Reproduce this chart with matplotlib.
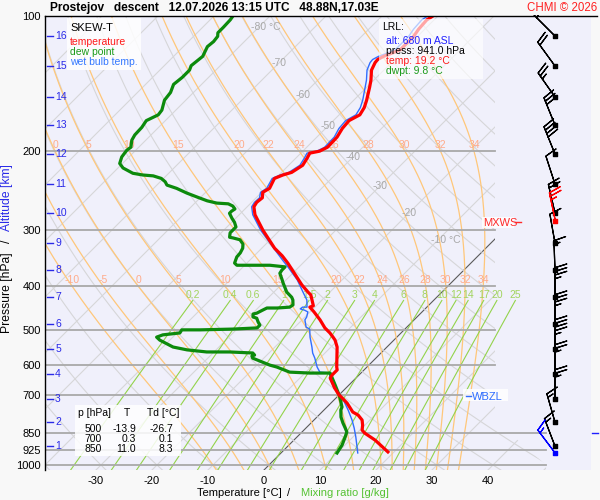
import numpy as np
import matplotlib.pyplot as plt
from matplotlib.patches import Polygon, Rectangle
from matplotlib.lines import Line2D
from matplotlib.ticker import NullLocator, NullFormatter

plt.rcParams['font.family'] = ['Liberation Sans', 'DejaVu Sans']
plt.rcParams['axes.unicode_minus'] = False

# temperature profile (hPa, degC)
t_p = [935, 880, 849, 836, 815, 794, 774, 762, 728, 709, 698, 674, 640, 630, 614, 605, 546, 527, 519, 508,
       495, 475, 456, 445, 442, 418, 412, 397, 355, 342, 329, 300, 277, 266, 260, 254, 247, 242, 230, 226,
       223, 215, 207, 202, 200, 196, 186, 178, 171, 166, 160, 154, 144, 139, 132, 127, 125, 123, 119, 111,
       107, 102, 100]
t_c = [18.9, 14.5, 11.4, 10.4, 9.6, 8.6, 7.0, 5.5, 2.9, 1.1, 0.0, -2.0, -4.6, -4.8, -4.8, -5.4, -8.9, -10.5, -11.4, -12.7,
       -14.5, -16.8, -19.3, -20.9, -20.5, -22.9, -23.9, -26.3, -32.7, -35.0, -37.7, -43.0, -47.2, -48.8, -49.1, -48.9, -49.8, -49.3, -50.2, -49.3,
       -48.2, -47.5, -48.0, -48.4, -47.0, -46.3, -46.4, -47.0, -47.2, -46.3, -46.8, -47.7, -49.5, -50.5, -52.2, -52.9, -53.0, -52.5, -50.7, -50.7,
       -51.1, -51.3, -50.9]

# wet bulb temperature
tw_p = [940, 866, 827, 794, 754, 728, 706, 698, 674, 640, 624, 621, 605, 578, 563, 546, 519, 498, 493, 475,
        468, 456, 452, 449, 445, 445, 429, 412, 387, 362, 350, 332, 300, 277, 266, 260, 254, 247, 242, 230,
        226, 223, 215, 207, 202, 200, 196, 186, 178, 171, 166, 160, 154, 144, 139, 132, 127, 125, 123, 119,
        111, 107, 102, 100]
tw_c = [13.7, 10.5, 8.6, 6.8, 4.3, 2.5, 0.9, 0.2, -2.1, -4.7, -5.5, -7.5, -8.9, -10.9, -12.2, -13.4, -15.5, -17.0, -18.0, -19.5,
        -19.7, -20.4, -21.3, -22.3, -22.2, -21.4, -22.7, -24.8, -28.0, -32.0, -34.1, -37.3, -43.4, -47.6, -49.2, -49.5, -49.4, -50.2, -49.8, -50.6,
        -49.8, -48.7, -48.0, -48.5, -48.9, -47.5, -46.8, -46.9, -47.6, -47.8, -47.0, -47.5, -48.4, -50.3, -51.3, -53.0, -53.8, -53.9, -53.4, -51.6,
        -51.6, -52.0, -52.2, -51.8]

# dew point
td_p = [100, 102, 106, 109, 111, 114, 117, 123, 129, 132, 137, 142, 148, 154, 162, 166, 171, 177, 184, 189,
        196, 199, 206, 213, 218, 224, 226, 227, 230, 234, 238, 242, 248, 253, 258, 261, 262, 265, 269, 272,
        275, 282, 288, 295, 300, 304, 311, 312, 315, 322, 329, 337, 344, 355, 359, 359, 359, 362, 368, 374,
        387, 393, 412, 423, 429, 440, 445, 447, 447, 452, 459, 461, 468, 471, 480, 488, 495, 498, 500, 500,
        508, 513, 519, 527, 546, 554, 560, 560, 563, 569, 572, 578, 599, 605, 621, 624, 624, 663, 698, 709,
        724, 743, 754, 782, 806, 827, 844, 866, 903, 940]
td_c = [-86.6, -86.4, -86.3, -86.3, -85.7, -85.5, -85.7, -84.8, -85.2, -84.7, -84.7, -85.0, -84.1, -83.8, -82.5, -82.3, -83.4, -83.0, -82.9, -82.5,
        -81.4, -81.6, -81.3, -80.5, -79.1, -76.4, -74.3, -72.3, -70.4, -69.1, -68.2, -65.9, -63.2, -60.7, -58.2, -56.1, -53.9, -52.7, -51.8, -52.0,
        -52.0, -50.7, -49.5, -48.4, -48.4, -48.4, -47.7, -47.0, -45.4, -44.1, -43.4, -43.0, -42.9, -42.2, -41.4, -39.1, -35.5, -32.5, -32.5, -32.3,
        -30.7, -30.0, -27.7, -25.9, -25.2, -24.3, -24.5, -26.6, -28.4, -28.8, -29.3, -29.8, -29.3, -28.4, -27.5, -26.6, -26.6, -30.7, -36.4, -39.7,
        -39.5, -42.2, -42.9, -41.8, -38.2, -35.2, -31.3, -27.2, -22.9, -22.2, -22.5, -22.0, -17.7, -16.1, -12.9, -9.1, -5.5, -2.5, 0.0, 0.7,
        1.6, 2.7, 3.0, 4.3, 5.7, 7.0, 8.0, 8.6, 9.5, 10.0]

p_levels = [100, 200, 300, 400, 500, 600, 700, 850, 925, 1000]
t_ticks = [-30, -20, -10, 0, 10, 20, 30, 40]

# altitude marks and wind at each km
km_marks = [16, 15, 14, 13, 12, 11, 10, 9, 8, 7, 6, 5, 4, 3, 2, 1]
km_p = [110.8, 129.2, 151.5, 174.9, 202.9, 236.7, 274.6, 320.3, 367.9, 422.5, 485.2, 551.6, 627.1, 712.8, 802.2, 907.2]
wind_dir = [315, 324, 325, 338, 338, 342, 347, 350, 358, 0, 0, 0, 0, 0, 344, 339]
wind_kt = [20, 20, 25, 30, 40, 10, 20, 10, 15, 35, 35, 45, 25, 25, 15, 15]

mxws_p, mxws_dir, mxws_kt = 286, 348, 25
lrl_p, lrl_dir, lrl_kt = 941, 323, 15

# diagram background
isotherms = np.arange(-120, 60, 10)
dry_theta = np.arange(-40, 230, 10)
thw_lines = [-10, -5, 0, 5, 10, 15, 20, 22, 24, 26, 28, 30, 32, 34]
thw_lab_200 = [0, 5, 10, 15, 20, 22, 24, 26, 28, 30, 32, 34]
mix_lines = [0.2, 0.4, 0.6, 1, 1.5, 2, 3, 4, 6, 8, 10, 12, 14, 17, 20, 25]
iso_lab = [-80, -70, -60, -50, -40, -30, -20, -10]
iso_lab_p = [106, 127, 150, 176, 206, 239, 275, 315]

table_rows = [('500', '-13.9', '-26.7'), ('700', '0.3', '0.1'), ('850', '11.0', '8.3')]

# skew-T geometry
P_BOT = 1025.8
K = 34.82
X_L, X_R = -39.107, 58.393
X_CLIP, X_CLIP2 = 41.25, 50.36
X_BARB = 51.96


def skew(t, p):
    return np.asarray(t, float) + K * np.log(P_BOT / np.asarray(p, float))


def lapse(t, p):
    es = 6.112 * np.exp(17.67 * (t - 273.15) / (t - 29.65))
    rs = 0.622 * es / (p - es)
    return (287.04 * t + 2.501e6 * rs) / p / (1005.7 + 2.501e6 ** 2 * rs * 0.622 / (287.04 * t * t))


def moist(t0, p):
    t = np.empty((len(p), len(t0)))
    t[0] = np.asarray(t0, float) + 273.15
    for i in range(len(p) - 1):
        h = p[i + 1] - p[i]
        k1 = lapse(t[i], p[i])
        k2 = lapse(t[i] + h * k1 / 2, p[i] + h / 2)
        k3 = lapse(t[i] + h * k2 / 2, p[i] + h / 2)
        k4 = lapse(t[i] + h * k3, p[i] + h)
        t[i + 1] = t[i] + h * (k1 + 2 * k2 + 2 * k3 + k4) / 6
    return t - 273.15


W, H = 600, 500
fig = plt.figure(figsize=(6, 5), dpi=100, facecolor='#f8f8f8')
ax = fig.add_axes([45 / W, 30 / H, 546 / W, 454 / H], facecolor='#f0f0fb')
ax.set_yscale('log')
ax.set_ylim(P_BOT, 100)
ax.set_xlim(X_L, X_R)
for s in ['top', 'right', 'bottom']:
    ax.spines[s].set_visible(False)
ax.spines['left'].set_linewidth(1)

clip = Polygon([(X_L, 100), (X_CLIP, 100), (X_CLIP, 794), (X_CLIP2, 1000), (X_CLIP2, P_BOT), (X_L, P_BOT)],
               closed=True, transform=ax.transData)

pp = np.geomspace(100, P_BOT, 80)
for t in isotherms:
    ln, = ax.plot(skew(t, pp), pp, color='#5a5a5a' if t == 0 else '#d6d6d8', lw=0.8, zorder=1)
    ln.set_clip_path(clip)
for th in dry_theta:
    tt = (th + 273.15) * (pp / 1000.0) ** 0.2857 - 273.15
    ln, = ax.plot(skew(tt, pp), pp, color='#d6d6d8', lw=0.8, zorder=1)
    ln.set_clip_path(clip)

# pseudo-adiabats
p_up = np.linspace(1000, 100, 301)
p_dn = np.linspace(1000, P_BOT, 6)
t_up = moist(thw_lines, p_up)
t_dn = moist(thw_lines, p_dn)
for j, thw in enumerate(thw_lines):
    pj = np.concatenate([p_dn[::-1], p_up[1:]])
    tj = np.concatenate([t_dn[::-1, j], t_up[1:, j]])
    ln, = ax.plot(skew(tj, pj), pj, color='#ffc77a', lw=0.9, zorder=1.5)
    ln.set_clip_path(clip)
    lp = np.log(p_up[::-1])
    t400 = np.interp(np.log(400), lp, t_up[::-1, j])
    ax.text(skew(t400, 400), 387, f'{thw}', color='#ffab8a', fontsize=7.5, ha='center', va='center', zorder=3)
    if thw in thw_lab_200:
        t200 = np.interp(np.log(200), lp, t_up[::-1, j])
        ax.text(skew(t200, 200), 194, f'{thw}', color='#ffab8a', fontsize=7.5, ha='center', va='center', zorder=3)

# mixing ratio lines
pm = np.geomspace(430, P_BOT, 40)
for w in mix_lines:
    e = w * pm / (622.0 + w)
    le = np.log(e / 6.112)
    td = 243.5 * le / (17.67 - le)
    ax.plot(skew(td, pm), pm, color='#93d34b', lw=0.8, zorder=1.6)
    ax.text(skew(td[0], pm[0]), 418, f'{w:g}', color='#a2d45e', fontsize=7.5, ha='center', va='center', zorder=3)

# isobars
for p in p_levels[1:]:
    xe = X_CLIP2 if p >= 850 else X_CLIP
    ax.plot([X_L, xe], [p, p], color='#a9a9a9', lw=1.3, zorder=2)

for t, p in zip(iso_lab, iso_lab_p):
    if t in (-80, -10):
        ax.annotate(f'{t} °C', (skew(t, p), p), xytext=(-5.5, 0), textcoords='offset points',
                    ha='left', va='center', color='#a8a8a8', fontsize=7.5, zorder=3)
    else:
        ax.text(skew(t, p), p, f'{t}', ha='center', va='center', color='#a8a8a8', fontsize=7.5, zorder=3)

# sounding
ax.plot(skew(tw_c, tw_p), tw_p, color='#2f6dff', lw=1.0, zorder=5)
ax.plot(skew(td_c, td_p), td_p, color='#0c8a0c', lw=2.3, zorder=5, solid_joinstyle='round')
ax.plot(skew(t_c, t_p), t_p, color='#ff0000', lw=2.3, zorder=6, solid_joinstyle='round')

# winds
d = np.deg2rad(wind_dir)
u = -np.array(wind_kt) * np.sin(d)
v = -np.array(wind_kt) * np.cos(d)
xb = np.full(len(km_p), X_BARB)
ax.barbs(xb, km_p, u, v, length=6.5, lw=0.9, color='k', clip_on=False, zorder=6)
ax.scatter(xb, km_p, marker='s', s=7, color='k', zorder=7, clip_on=False)
for p, dd, sp, col in [(mxws_p, mxws_dir, mxws_kt, '#ff0000'), (lrl_p, lrl_dir, lrl_kt, '#0000ff')]:
    r = np.deg2rad(dd)
    ax.barbs([X_BARB], [p], [-sp * np.sin(r)], [-sp * np.cos(r)], length=6.5, lw=0.9, color=col,
             clip_on=False, zorder=7)
    ax.scatter([X_BARB], [p], marker='s', s=7, color=col, zorder=8, clip_on=False)

# axes ticks
ax.set_yticks(p_levels)
ax.set_yticklabels([str(p) for p in p_levels])
ax.yaxis.set_minor_locator(NullLocator())
ax.yaxis.set_minor_formatter(NullFormatter())
ax.set_xticks(t_ticks)
ax.set_xticklabels([str(t) for t in t_ticks])
ax.tick_params(axis='y', length=0, pad=3, labelsize=8)
ax.tick_params(axis='x', length=0, pad=4, labelsize=8)

blue = '#2a2ae8'
ytr = ax.get_yaxis_transform()
for k, p in zip(km_marks, km_p):
    ax.plot([0.0037, 0.0147], [p, p], transform=ytr, color=blue, lw=1, clip_on=False, zorder=4)
    ax.text(0.0185, p, str(k), transform=ytr, color=blue, fontsize=7.5, ha='left', va='center', zorder=4)


def fx(x):
    return x / W


def fy(y):
    return 1 - y / H


def ftext(x, y, s, **kw):
    kw.setdefault('va', 'baseline')
    kw.setdefault('fontsize', 7.5)
    fig.text(fx(x), fy(y), s, **kw)


def fbox(x0, y0, x1, y1, alpha, zorder=2):
    fig.add_artist(Rectangle((fx(x0), fy(y1)), (x1 - x0) / W, (y1 - y0) / H, transform=fig.transFigure,
                             facecolor='white', edgecolor='none', alpha=alpha, zorder=zorder))


def fline(x0, x1, y, color):
    fig.add_artist(Line2D([fx(x0), fx(x1)], [fy(y), fy(y)], color=color, lw=1, transform=fig.transFigure, zorder=3))


# header strip above the diagram stays clear of the barbs
fig.add_artist(Rectangle((fx(300), fy(15)), 300 / W, 15 / H, transform=fig.transFigure,
                         facecolor='#f8f8f8', edgecolor='none', zorder=1.5))
fline(45, 597, 15.5, 'black')

ftext(50, 11.5, 'Prostejov   descent   12.07.2026 13:15 UTC   48.88N,17.03E', fontsize=8.6, fontweight='bold')
ftext(597, 11, 'CHMI © 2026', fontsize=8.3, color='#ff2020', ha='right')

# legend box
fbox(67, 18, 141, 70, 0.85)
ftext(70, 31, 'SKEW-T', fontsize=8)
ftext(70, 45, 'temperature', color='#ff1a1a')
ftext(70, 55, 'dew point', color='#1a9a1a')
ftext(70, 65, 'wet bulb temp.', color='#3377ff')

# LRL box
fbox(379, 19, 483, 79, 0.65)
ftext(382, 30, 'LRL:')
ftext(386, 43.5, 'alt: 680 m ASL', color='#2020ff')
ftext(386, 53.5, 'press: 941.0 hPa')
ftext(386, 63.5, 'temp: 19.2 °C', color='#ff1a1a')
ftext(386, 73.5, 'dwpt: 9.8 °C', color='#1a9a1a')

# table box
fbox(75, 405, 181, 456, 0.85)
ftext(78, 416, 'p [hPa]')
ftext(127, 416, 'T', ha='center')
ftext(147, 416, 'Td [°C]')
for i, (p, t, td) in enumerate(table_rows):
    y = 432 + 10 * i
    ftext(102, y, p, ha='right')
    ftext(136, y, t, ha='right')
    ftext(173, y, td, ha='right')

# level markers
fbox(463, 389, 508, 401, 0.85)
fline(466, 471, 396, '#2f6dff')
ftext(472, 399.5, 'WBZL', color='#2f6dff', fontsize=8)
fbox(482, 217, 514, 228, 0.85)
ftext(483, 226, 'MXWS', color='#ff2a2a', fontsize=8)
fline(515, 521, 222, '#ff2a2a')
fline(592, 598, 433, '#2020ff')

# axis titles
ftext(7.5, 293, 'Pressure [hPa]', rotation=90, ha='center', va='center', fontsize=8.7)
ftext(7.5, 241, '/', rotation=90, ha='center', va='center', fontsize=8.7)
ftext(7.5, 198, 'Altitude [km]', rotation=90, ha='center', va='center', fontsize=8.7, color=blue)
ftext(239, 496, 'Temperature [°C]', ha='center', fontsize=8)
ftext(289, 496, '/', ha='center', fontsize=8)
ftext(344.5, 496, 'Mixing ratio [g/kg]', ha='center', fontsize=8, color='#55c233')

fig.savefig('out.png', dpi=100, facecolor=fig.get_facecolor())
